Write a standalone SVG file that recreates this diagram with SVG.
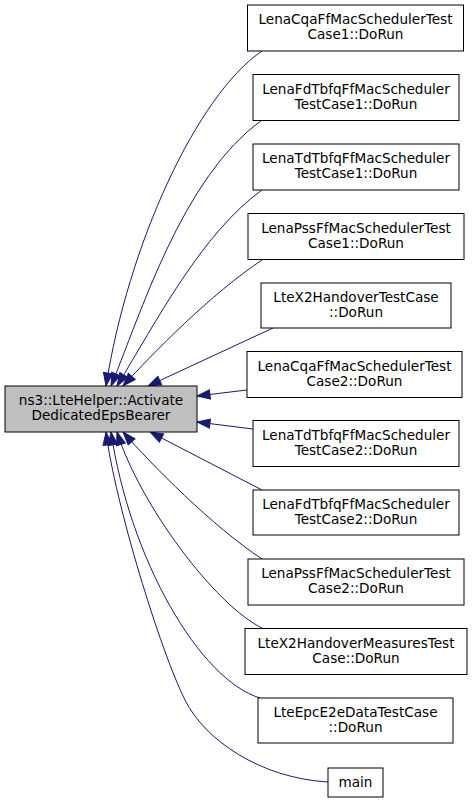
<svg xmlns="http://www.w3.org/2000/svg" width="472" height="803" viewBox="0 0 472 803">
<style>
.n rect{fill:#ffffff;stroke:#000000;stroke-width:1}
.m rect{fill:#bfbfbf;stroke:#000000;stroke-width:1}
text{font-family:"DejaVu Sans","Liberation Sans",sans-serif;font-size:13.6px;fill:#000000;text-anchor:middle}
.e path{fill:none;stroke:#191970;stroke-width:1;marker-end:url(#arr)}
</style>
<defs>
<marker id="arr" markerWidth="16" markerHeight="12" viewBox="-1 -6 16 12" refX="13" refY="0" orient="auto" markerUnits="userSpaceOnUse">
<path d="M0,-4.6L13,0L0,4.6z" fill="#191970" stroke="#191970" stroke-width="1"/>
</marker>
</defs>
<rect width="472" height="803" fill="#ffffff"/>
<g id="edges" class="e">
<path d="M262,51 C197,95 128,245 106,386"/>
<path d="M262,120 C182,177 140,316 111,386"/>
<path d="M262,190 C202,233 156,322 117,386"/>
<path d="M262,260 C212,293 152,354 123,386"/>
<path d="M273,328 L148,386"/>
<path d="M247,390 L197,396"/>
<path d="M253,429 L197,422"/>
<path d="M262,490 L150,432"/>
<path d="M262,559 C212,526 152,465 123,432"/>
<path d="M262,628 C215,605 140,505 117,432"/>
<path d="M260,698 C200,680 130,560 111,432"/>
<path d="M328,782 C260,778 205,740 185,700 C160,650 115,503 106,432"/>
</g>
<g id="node0" class="m"><rect x="5" y="386" width="192" height="46"/><text x="101" y="405">ns3::LteHelper::Activate</text><text x="101" y="420">DedicatedEpsBearer</text></g>
<g id="node1" class="n"><rect x="247.5" y="5" width="216" height="46"/><text x="355.5" y="24">LenaCqaFfMacSchedulerTest</text><text x="355.5" y="39">Case1::DoRun</text></g>
<g id="node2" class="n"><rect x="253" y="74.5" width="206" height="46"/><text x="356" y="93.5">LenaFdTbfqFfMacScheduler</text><text x="356" y="108.5">TestCase1::DoRun</text></g>
<g id="node3" class="n"><rect x="253" y="144" width="206" height="46"/><text x="356" y="163">LenaTdTbfqFfMacScheduler</text><text x="356" y="178">TestCase1::DoRun</text></g>
<g id="node4" class="n"><rect x="248" y="213.5" width="216" height="46"/><text x="356" y="232.5">LenaPssFfMacSchedulerTest</text><text x="356" y="247.5">Case1::DoRun</text></g>
<g id="node5" class="n"><rect x="261" y="283" width="190" height="45"/><text x="356" y="302">LteX2HandoverTestCase</text><text x="356" y="317">::DoRun</text></g>
<g id="node6" class="n"><rect x="247" y="351.5" width="215" height="46"/><text x="354.5" y="370.5">LenaCqaFfMacSchedulerTest</text><text x="354.5" y="385.5">Case2::DoRun</text></g>
<g id="node7" class="n"><rect x="253" y="420.5" width="206" height="46"/><text x="356" y="439.5">LenaTdTbfqFfMacScheduler</text><text x="356" y="454.5">TestCase2::DoRun</text></g>
<g id="node8" class="n"><rect x="253" y="490" width="206" height="45"/><text x="356" y="509">LenaFdTbfqFfMacScheduler</text><text x="356" y="524">TestCase2::DoRun</text></g>
<g id="node9" class="n"><rect x="248" y="559" width="216" height="46"/><text x="356" y="578">LenaPssFfMacSchedulerTest</text><text x="356" y="593">Case2::DoRun</text></g>
<g id="node10" class="n"><rect x="245" y="628.5" width="222" height="46"/><text x="356" y="647.5">LteX2HandoverMeasuresTest</text><text x="356" y="662.5">Case::DoRun</text></g>
<g id="node11" class="n"><rect x="258" y="698" width="195" height="45"/><text x="355.5" y="717">LteEpcE2eDataTestCase</text><text x="355.5" y="732">::DoRun</text></g>
<g id="node12" class="n"><rect x="328" y="768" width="55" height="29"/><text x="355.5" y="787">main</text></g>
</svg>
